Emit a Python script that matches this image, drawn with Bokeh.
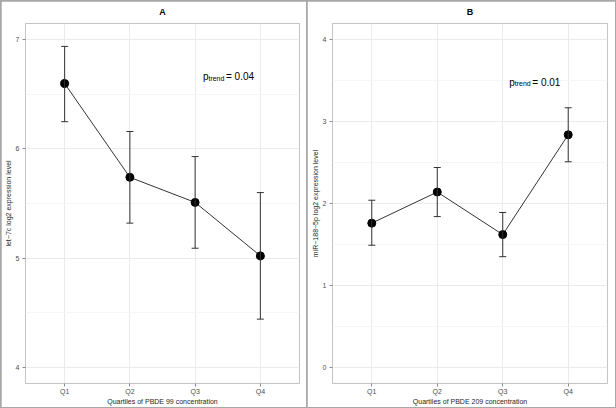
from bokeh.plotting import figure
from bokeh.layouts import row
from bokeh.models import (ColumnDataSource, Whisker, TeeHead, Label, FixedTicker,
                          Range1d, FactorRange)
from bokeh.embed import file_html
from bokeh.resources import INLINE

# ---------------- data ----------------
quartiles = ["Q1", "Q2", "Q3", "Q4"]

a_mean = [6.60, 5.74, 5.51, 5.02]
a_lower = [6.25, 5.32, 5.09, 4.44]
a_upper = [6.94, 6.16, 5.93, 5.60]
a_ticks = [4, 5, 6, 7]
a_minor = [4.5, 5.5, 6.5]

b_mean = [1.76, 2.14, 1.62, 2.84]
b_lower = [1.49, 1.84, 1.35, 2.51]
b_upper = [2.04, 2.44, 1.89, 3.17]
b_ticks = [0, 1, 2, 3, 4]
b_minor = [0.5, 1.5, 2.5, 3.5]

FONT = "Liberation Sans"


def make_panel(title, ylabel, xlabel, mean, lower, upper, ylim, ticks, minor,
               p_value, lab_x, lab_y, width, left_border, right_border):
    p = figure(width=width, height=406, x_range=FactorRange(*quartiles),
               y_range=Range1d(*ylim), output_backend="svg", toolbar_location=None,
               min_border_left=left_border, min_border_right=right_border,
               min_border_top=22, min_border_bottom=24)
    p.x_range.range_padding = 0.05
    p.x_range.range_padding_units = "percent"

    p.background_fill_color = "white"
    p.border_fill_color = "white"
    p.outline_line_color = "#c4c4c4"
    p.outline_line_width = 1

    p.title.text = title
    p.title.align = "center"
    p.title.text_font = FONT
    p.title.text_font_size = "9px"
    p.title.text_font_style = "bold"
    p.title.text_color = "black"
    p.title.vertical_align = "top"
    p.title.standoff = 10

    p.yaxis.ticker = FixedTicker(ticks=ticks, minor_ticks=minor)
    for ax in (p.xaxis[0], p.yaxis[0]):
        ax.axis_line_color = None
        ax.major_tick_line_color = "#8a8a8a"
        ax.major_tick_out = 3
        ax.major_tick_in = 0
        ax.minor_tick_line_color = None
        ax.major_label_text_font = FONT
        ax.major_label_text_font_size = "7px"
        ax.major_label_text_color = "#4d4d4d"
        ax.axis_label_text_font = FONT
        ax.axis_label_text_font_size = "7px"
        ax.axis_label_text_font_style = "normal"
        ax.axis_label_text_color = "#262626"
    p.xaxis.major_label_standoff = 1
    p.xaxis.axis_label_standoff = 0
    p.yaxis.major_label_standoff = 2
    p.yaxis.axis_label_standoff = 1
    p.xaxis.axis_label = xlabel
    p.yaxis.axis_label = ylabel

    p.xgrid.grid_line_color = "#ebebeb"
    p.ygrid.grid_line_color = "#ebebeb"
    p.ygrid.minor_grid_line_color = "#f6f6f6"

    src = ColumnDataSource(dict(x=quartiles, y=mean, lo=lower, hi=upper))
    w = Whisker(base="x", lower="lo", upper="hi", source=src,
                line_color="#333333", line_width=1, level="glyph",
                upper_head=TeeHead(size=7, line_color="#333333", line_width=1),
                lower_head=TeeHead(size=7, line_color="#333333", line_width=1))
    p.add_layout(w)
    p.line("x", "y", source=src, line_color="#333333", line_width=1)
    p.scatter("x", "y", source=src, size=8, fill_color="black", line_color="black")

    p.add_layout(Label(x=lab_x, y=lab_y, text="p", text_font=FONT,
                       text_font_size="10px", text_color="black",
                       text_baseline="alphabetic"))
    p.add_layout(Label(x=lab_x, y=lab_y, x_offset=5.5, y_offset=-1.5, text="trend",
                       text_font=FONT, text_font_size="7px", text_color="black",
                       text_baseline="alphabetic"))
    p.add_layout(Label(x=lab_x, y=lab_y, x_offset=23, text="= " + p_value,
                       text_font=FONT, text_font_size="10px", text_color="black",
                       text_baseline="alphabetic"))
    return p


pa = make_panel("A", "let\u22127c log2 expression level",
                "Quartiles of PBDE 99 concentration",
                a_mean, a_lower, a_upper, (3.85, 7.15), a_ticks, a_minor,
                "0.04", 2.62, 6.66, 305, 23, 7)
pb = make_panel("B", "miR\u2212188\u22125p log2 expression level",
                "Quartiles of PBDE 209 concentration",
                b_mean, b_lower, b_upper, (-0.2, 4.2), b_ticks, b_minor,
                "0.01", 2.6, 3.48, 308, 25, 8)

layout = row(pa, pb, spacing=1,
             styles={"background-color": "#a8a8a8", "padding": "1px"})

open("out.html", "w").write(file_html(layout, INLINE))
